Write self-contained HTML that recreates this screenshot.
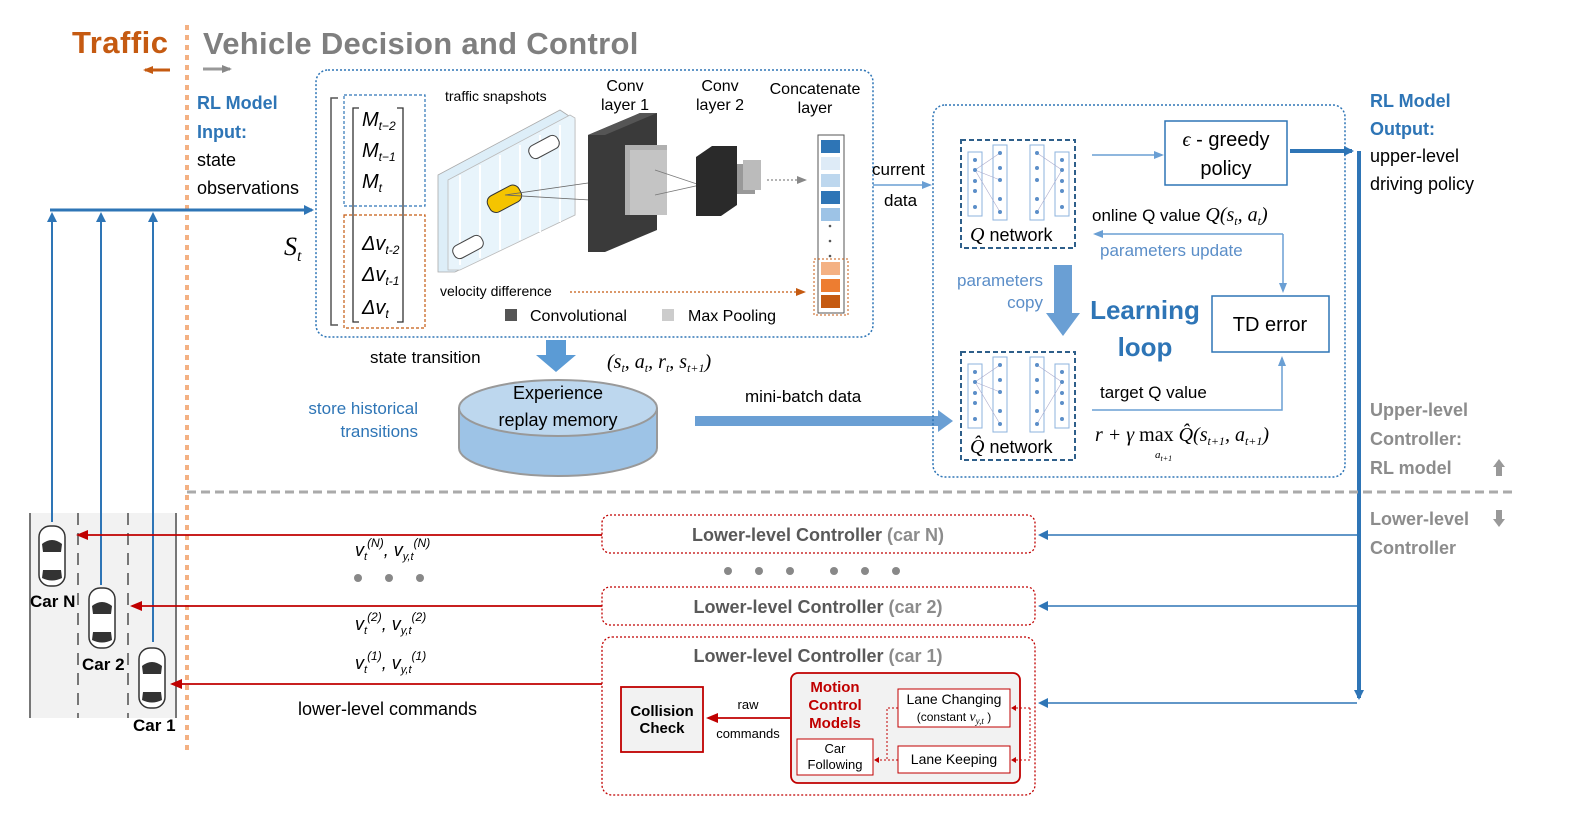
<!DOCTYPE html>
<html><head><meta charset="utf-8"><style>
body{margin:0;background:#fff}
svg{display:block}
text{font-family:"Liberation Sans",sans-serif}
.m{font-family:"Liberation Serif",serif;font-style:italic}
.b{font-weight:bold}
</style></head><body>
<svg width="1572" height="824" viewBox="0 0 1572 824" xmlns="http://www.w3.org/2000/svg">
<defs>
<marker id="ab" markerWidth="10" markerHeight="10" refX="8" refY="5" orient="auto" markerUnits="userSpaceOnUse"><path d="M0,0L10,5L0,10z" fill="#2e75b6"/></marker>
<marker id="al" markerWidth="10" markerHeight="10" refX="8" refY="5" orient="auto" markerUnits="userSpaceOnUse"><path d="M0,1L10,5L0,9z" fill="#6a9fd4"/></marker>
<marker id="ar" markerWidth="12" markerHeight="10" refX="10" refY="5" orient="auto" markerUnits="userSpaceOnUse"><path d="M0,0L12,5L0,10z" fill="#c00000"/></marker>
<marker id="ao" markerWidth="10" markerHeight="8" refX="8" refY="4" orient="auto" markerUnits="userSpaceOnUse"><path d="M0,0L10,4L0,8z" fill="#c55a11"/></marker>
<marker id="ag" markerWidth="10" markerHeight="8" refX="8" refY="4" orient="auto" markerUnits="userSpaceOnUse"><path d="M0,0L10,4L0,8z" fill="#888"/></marker>
<g id="car"><rect x="-13" y="-30" width="26" height="60" rx="11" fill="#fff" stroke="#333" stroke-width="1.5"/><path d="M-10,-12 Q0,-20 10,-12 L9,-4 L-9,-4z" fill="#333"/><path d="M-9,14 L9,14 L10,22 Q0,27 -10,22z" fill="#333"/></g>
</defs>

<!-- road (drawn first) -->
<rect x="30" y="513" width="146" height="205" fill="#f2f2f2"/>
<g stroke="#777" stroke-width="2"><line x1="30" y1="513" x2="30" y2="718"/><line x1="176" y1="513" x2="176" y2="718"/>
<line x1="78" y1="513" x2="78" y2="718" stroke-dasharray="12,8"/><line x1="128" y1="513" x2="128" y2="718" stroke-dasharray="12,8"/></g>

<!-- headers -->
<text x="72" y="53" font-size="31" class="b" fill="#c55a11" letter-spacing="0.5">Traffic</text>
<line x1="170" y1="70" x2="145" y2="70" stroke="#c55a11" stroke-width="3" marker-end="url(#ao)"/>
<line x1="187" y1="25" x2="187" y2="755" stroke="#f4b183" stroke-width="4" stroke-dasharray="5,5"/>
<text x="203" y="54" font-size="31" class="b" fill="#7f7f7f" letter-spacing="0.3">Vehicle Decision and Control</text>
<line x1="203" y1="69" x2="230" y2="69" stroke="#999" stroke-width="3" marker-end="url(#ag)"/>

<text x="197" y="109" font-size="18" class="b" fill="#2e75b6">RL Model</text>
<text x="197" y="138" font-size="18" class="b" fill="#2e75b6">Input:</text>
<text x="197" y="166" font-size="18">state</text>
<text x="197" y="194" font-size="18">observations</text>

<!-- input lines -->
<line x1="50" y1="210" x2="312" y2="210" stroke="#2e75b6" stroke-width="3" marker-end="url(#ab)"/>
<line x1="52" y1="522" x2="52" y2="214" stroke="#2e75b6" stroke-width="2" marker-end="url(#ab)"/>
<line x1="101" y1="585" x2="101" y2="214" stroke="#2e75b6" stroke-width="2" marker-end="url(#ab)"/>
<line x1="153" y1="642" x2="153" y2="214" stroke="#2e75b6" stroke-width="2" marker-end="url(#ab)"/>

<!-- left CNN box -->
<rect x="316" y="70" width="557" height="267" rx="12" fill="none" stroke="#2e75b6" stroke-width="1.5" stroke-dasharray="2,2"/>
<text x="284" y="255" font-size="26" class="m">S<tspan font-size="16" dy="6">t</tspan></text>
<path d="M338,98 H331 V325 H338" fill="none" stroke="#555" stroke-width="1.5"/>
<rect x="344" y="95" width="81" height="111" fill="none" stroke="#2e75b6" stroke-width="1.2" stroke-dasharray="3,2"/>
<rect x="344" y="215" width="81" height="113" fill="none" stroke="#c55a11" stroke-width="1.2" stroke-dasharray="3,2"/>
<path d="M359,108 H353 V322 H359 M397,108 H403 V322 H397" fill="none" stroke="#333" stroke-width="1.3"/>
<g font-size="20" class="m">
<text x="362" y="126">M<tspan font-size="12" dy="4">t−2</tspan></text>
<text x="362" y="157">M<tspan font-size="12" dy="4">t−1</tspan></text>
<text x="362" y="188">M<tspan font-size="12" dy="4">t</tspan></text>
<text x="362" y="250">Δv<tspan font-size="12" dy="4">t-2</tspan></text>
<text x="362" y="281">Δv<tspan font-size="12" dy="4">t-1</tspan></text>
<text x="362" y="314">Δv<tspan font-size="12" dy="4">t</tspan></text>
</g>
<text x="445" y="101" font-size="14">traffic snapshots</text>
<!-- snapshots -->
<polygon points="438,175 560,110 575,120 575,215 455,272 438,272" fill="#ddeef8" stroke="#aaa" stroke-width="0.8"/>
<polygon points="448,180 570,115 575,118 575,215 460,270 448,270" fill="#e8f4fb" stroke="#bbb" stroke-width="0.8"/>
<g stroke="#fff" stroke-width="2"><line x1="460" y1="175" x2="460" y2="265"/><line x1="480" y1="165" x2="480" y2="258"/><line x1="500" y1="155" x2="500" y2="250"/><line x1="520" y1="145" x2="520" y2="240"/><line x1="540" y1="135" x2="540" y2="232"/><line x1="560" y1="125" x2="560" y2="222"/></g>
<rect x="487" y="190" width="35" height="18" rx="7" fill="#f5c400" stroke="#333" transform="rotate(-28 504 199)"/>
<rect x="528" y="140" width="32" height="14" rx="6" fill="#fff" stroke="#444" transform="rotate(-28 544 147)"/>
<rect x="452" y="240" width="32" height="14" rx="6" fill="#fff" stroke="#444" transform="rotate(-28 468 247)"/>
<polyline points="505,195 588,183 505,195 590,200" fill="none" stroke="#666" stroke-width="0.8"/>
<!-- conv1 -->
<polygon points="588,135 640,113 657,113 657,230 605,252 588,252" fill="#3a3a3a"/>
<polygon points="588,135 640,113 657,113 605,135" fill="#555"/>
<rect x="625" y="145" width="42" height="70" fill="#b0b0b0"/>
<rect x="630" y="150" width="37" height="65" fill="#c4c4c4"/>
<polyline points="655,170 700,185 655,195" fill="none" stroke="#777" stroke-width="0.8"/>
<!-- conv2 -->
<polygon points="696,157 712,146 737,146 737,205 721,216 696,216" fill="#2a2a2a"/>
<rect x="737" y="164" width="18" height="30" fill="#999"/>
<rect x="743" y="160" width="18" height="30" fill="#bbb"/>
<line x1="767" y1="180" x2="805" y2="180" stroke="#888" stroke-width="1.3" stroke-dasharray="2,2" marker-end="url(#ag)"/>
<g font-size="16" text-anchor="middle">
<text x="625" y="91">Conv</text><text x="625" y="110">layer 1</text>
<text x="720" y="91">Conv</text><text x="720" y="110">layer 2</text>
<text x="815" y="94">Concatenate</text><text x="815" y="113">layer</text>
</g>
<rect x="818" y="135" width="26" height="178" fill="#fff" stroke="#555"/>
<rect x="821" y="140" width="19" height="13" fill="#2e75b6"/>
<rect x="821" y="157" width="19" height="13" fill="#deebf7"/>
<rect x="821" y="174" width="19" height="13" fill="#bdd7ee"/>
<rect x="821" y="191" width="19" height="13" fill="#2e75b6"/>
<rect x="821" y="208" width="19" height="13" fill="#9dc3e6"/>
<g fill="#555"><circle cx="830" cy="226" r="1.3"/><circle cx="830" cy="241" r="1.3"/><circle cx="830" cy="256" r="1.3"/></g>
<rect x="821" y="262" width="19" height="13" fill="#f4b183"/>
<rect x="821" y="279" width="19" height="13" fill="#ed7d31"/>
<rect x="821" y="295" width="19" height="13" fill="#c55a11"/>
<rect x="814" y="259" width="34" height="56" fill="none" stroke="#c55a11" stroke-dasharray="2,2"/>
<text x="440" y="296" font-size="14">velocity difference</text>
<line x1="570" y1="292" x2="804" y2="292" stroke="#c55a11" stroke-width="1.3" stroke-dasharray="2,2" marker-end="url(#ao)"/>
<rect x="505" y="309" width="12" height="12" fill="#555"/>
<text x="530" y="321" font-size="16" font-family="Liberation Serif">Convolutional</text>
<rect x="662" y="309" width="12" height="12" fill="#ccc"/>
<text x="688" y="321" font-size="16" font-family="Liberation Serif">Max Pooling</text>

<!-- current data -->
<text x="872" y="175" font-size="17">current</text>
<text x="884" y="206" font-size="17">data</text>
<line x1="873" y1="185" x2="930" y2="185" stroke="#6a9fd4" stroke-width="1.5" marker-end="url(#al)"/>

<!-- state transition / memory -->
<text x="370" y="363" font-size="17">state transition</text>
<polygon points="546,340 566,340 566,355 576,355 556,372 536,355 546,355" fill="#5b9bd5"/>
<text x="607" y="368" font-size="20" class="m">(s<tspan font-size="12" dy="4">t</tspan><tspan dy="-4">, a</tspan><tspan font-size="12" dy="4">t</tspan><tspan dy="-4">, r</tspan><tspan font-size="12" dy="4">t</tspan><tspan dy="-4">, s</tspan><tspan font-size="12" dy="4">t+1</tspan><tspan dy="-4">)</tspan></text>
<text x="418" y="414" font-size="17" fill="#2e75b6" text-anchor="end">store historical</text>
<text x="418" y="437" font-size="17" fill="#2e75b6" text-anchor="end">transitions</text>
<path d="M459,408 V448 A99,28 0 0 0 657,448 V408" fill="#9dc3e6" stroke="#999" stroke-width="2"/>
<ellipse cx="558" cy="408" rx="99" ry="28" fill="#bdd7ee" stroke="#999" stroke-width="2"/>
<text x="558" y="399" font-size="18" text-anchor="middle">Experience</text>
<text x="558" y="426" font-size="18" text-anchor="middle">replay memory</text>
<text x="745" y="402" font-size="17">mini-batch data</text>
<polygon points="695,416 938,416 938,410 953,421 938,432 938,426 695,426" fill="#6a9fd4"/>

<!-- right box -->
<rect x="933" y="105" width="412" height="372" rx="12" fill="none" stroke="#2e75b6" stroke-width="1.5" stroke-dasharray="2,2"/>
<g id="net">
<rect x="961" y="140" width="114" height="108" fill="none" stroke="#2e5f8a" stroke-width="2" stroke-dasharray="5,3"/>
<rect x="968" y="152" width="14" height="64" fill="none" stroke="#8db3dd"/>
<rect x="993" y="145" width="14" height="75" fill="none" stroke="#8db3dd"/>
<rect x="1030" y="145" width="14" height="75" fill="none" stroke="#8db3dd"/>
<rect x="1055" y="152" width="14" height="64" fill="none" stroke="#8db3dd"/>
<g stroke="#aac" stroke-width="0.6"><line x1="975" y1="170" x2="1000" y2="153"/><line x1="975" y1="170" x2="1000" y2="180"/><line x1="975" y1="170" x2="1000" y2="212"/><line x1="1037" y1="153" x2="1062" y2="170"/><line x1="1037" y1="212" x2="1062" y2="170"/></g>
<g fill="#5b8ec8"><circle cx="975" cy="160" r="2"/><circle cx="975" cy="170" r="2"/><circle cx="975" cy="181" r="2"/><circle cx="975" cy="191" r="2"/><circle cx="975" cy="207" r="2"/>
<circle cx="1000" cy="153" r="2"/><circle cx="1000" cy="168" r="2"/><circle cx="1000" cy="180" r="2"/><circle cx="1000" cy="199" r="2"/><circle cx="1000" cy="212" r="2"/>
<circle cx="1037" cy="153" r="2"/><circle cx="1037" cy="168" r="2"/><circle cx="1037" cy="180" r="2"/><circle cx="1037" cy="199" r="2"/><circle cx="1037" cy="212" r="2"/>
<circle cx="1062" cy="160" r="2"/><circle cx="1062" cy="170" r="2"/><circle cx="1062" cy="181" r="2"/><circle cx="1062" cy="191" r="2"/><circle cx="1062" cy="207" r="2"/></g>
</g>
<use href="#net" y="212"/>
<text x="970" y="241" font-size="18"><tspan class="m" font-size="20">Q</tspan> network</text>
<text x="970" y="453" font-size="18"><tspan class="m" font-size="20">Q̂</tspan> network</text>
<line x1="1092" y1="155" x2="1162" y2="155" stroke="#6a9fd4" stroke-width="1.5" marker-end="url(#al)"/>
<rect x="1165" y="121" width="122" height="64" fill="#fff" stroke="#2e75b6" stroke-width="1.5"/>
<text x="1226" y="146" font-size="20" text-anchor="middle"><tspan class="m">ϵ</tspan> - greedy</text>
<text x="1226" y="175" font-size="20" text-anchor="middle">policy</text>
<line x1="1290" y1="151" x2="1352" y2="151" stroke="#2e75b6" stroke-width="4" marker-end="url(#ab)"/>
<text x="1092" y="221" font-size="17">online Q value <tspan class="m" font-size="20">Q(s<tspan font-size="12" dy="4">t</tspan><tspan dy="-4">, a</tspan><tspan font-size="12" dy="4">t</tspan><tspan dy="-4">)</tspan></tspan></text>
<polyline points="1283,234 1095,234" fill="none" stroke="#6a9fd4" stroke-width="1.5" marker-end="url(#al)"/>
<line x1="1283" y1="234" x2="1283" y2="291" stroke="#6a9fd4" stroke-width="1.5" marker-end="url(#al)"/>
<text x="1100" y="256" font-size="17" fill="#5b8ec8">parameters update</text>
<text x="1043" y="286" font-size="17" fill="#5b8ec8" text-anchor="end">parameters</text>
<text x="1043" y="308" font-size="17" fill="#5b8ec8" text-anchor="end">copy</text>
<polygon points="1054,265 1072,265 1072,313 1080,313 1063,336 1046,313 1054,313" fill="#6a9fd4"/>
<text x="1145" y="319" font-size="26" class="b" fill="#2e75b6" text-anchor="middle">Learning</text>
<text x="1145" y="356" font-size="26" class="b" fill="#2e75b6" text-anchor="middle">loop</text>
<rect x="1212" y="296" width="117" height="56" fill="#fff" stroke="#2e75b6" stroke-width="1.5"/>
<text x="1270" y="331" font-size="20" text-anchor="middle">TD error</text>
<text x="1100" y="398" font-size="17">target Q value</text>
<polyline points="1092,410 1282,410 1282,358" fill="none" stroke="#6a9fd4" stroke-width="1.5" marker-end="url(#al)"/>
<text x="1095" y="441" font-size="20" class="m">r + γ <tspan font-style="normal">max</tspan> Q̂(s<tspan font-size="12" dy="4">t+1</tspan><tspan dy="-4">, a</tspan><tspan font-size="12" dy="4">t+1</tspan><tspan dy="-4">)</tspan></text>
<text x="1155" y="458" font-size="11" class="m">a<tspan font-size="8" dy="3">t+1</tspan></text>

<!-- right side text -->
<text x="1370" y="107" font-size="18" class="b" fill="#2e75b6">RL Model</text>
<text x="1370" y="135" font-size="18" class="b" fill="#2e75b6">Output:</text>
<text x="1370" y="162" font-size="18">upper-level</text>
<text x="1370" y="190" font-size="18">driving policy</text>
<line x1="1359" y1="151" x2="1359" y2="698" stroke="#2e75b6" stroke-width="4" marker-end="url(#ab)"/>
<g font-size="18" class="b" fill="#8c8c8c">
<text x="1370" y="416">Upper-level</text><text x="1370" y="445">Controller:</text><text x="1370" y="474">RL model</text>
<text x="1370" y="525">Lower-level</text><text x="1370" y="554">Controller</text>
</g>
<polygon points="1499,459 1505,467 1502,467 1502,476 1496,476 1496,467 1493,467" fill="#999"/>
<polygon points="1499,527 1505,519 1502,519 1502,510 1496,510 1496,519 1493,519" fill="#999"/>
<line x1="187" y1="492" x2="1512" y2="492" stroke="#aaa" stroke-width="3" stroke-dasharray="9,5"/>

<!-- lower controllers -->
<g fill="none" stroke="#c00000" stroke-width="1.3" stroke-dasharray="2,2">
<rect x="602" y="515" width="433" height="38" rx="8"/>
<rect x="602" y="587" width="433" height="38" rx="8"/>
<rect x="602" y="637" width="433" height="158" rx="10"/>
</g>
<g font-size="18" class="b" fill="#595959" text-anchor="middle">
<text x="818" y="541">Lower-level Controller <tspan fill="#8c8c8c">(car N)</tspan></text>
<text x="818" y="613">Lower-level Controller <tspan fill="#8c8c8c">(car 2)</tspan></text>
<text x="818" y="662">Lower-level Controller <tspan fill="#8c8c8c">(car 1)</tspan></text>
</g>
<g fill="#888"><circle cx="728" cy="571" r="4"/><circle cx="759" cy="571" r="4"/><circle cx="790" cy="571" r="4"/><circle cx="834" cy="571" r="4"/><circle cx="865" cy="571" r="4"/><circle cx="896" cy="571" r="4"/>
<circle cx="358" cy="578" r="4"/><circle cx="389" cy="578" r="4"/><circle cx="420" cy="578" r="4"/></g>
<g stroke="#2e75b6" stroke-width="1.5"><line x1="1357" y1="535" x2="1040" y2="535" marker-end="url(#ab)"/><line x1="1357" y1="606" x2="1040" y2="606" marker-end="url(#ab)"/><line x1="1357" y1="703" x2="1040" y2="703" marker-end="url(#ab)"/></g>
<g stroke="#c00000" stroke-width="1.8"><line x1="602" y1="535" x2="78" y2="535" marker-end="url(#ar)"/><line x1="602" y1="606" x2="132" y2="606" marker-end="url(#ar)"/><line x1="602" y1="684" x2="172" y2="684" marker-end="url(#ar)"/></g>
<g font-size="18" class="m">
<text x="355" y="556">v<tspan font-size="11" dy="4">t</tspan><tspan font-size="12" dy="-13">(N)</tspan><tspan dy="9">, v</tspan><tspan font-size="11" dy="4">y,t</tspan><tspan font-size="12" dy="-13">(N)</tspan></text>
<text x="355" y="630">v<tspan font-size="11" dy="4">t</tspan><tspan font-size="12" dy="-13">(2)</tspan><tspan dy="9">, v</tspan><tspan font-size="11" dy="4">y,t</tspan><tspan font-size="12" dy="-13">(2)</tspan></text>
<text x="355" y="669">v<tspan font-size="11" dy="4">t</tspan><tspan font-size="12" dy="-13">(1)</tspan><tspan dy="9">, v</tspan><tspan font-size="11" dy="4">y,t</tspan><tspan font-size="12" dy="-13">(1)</tspan></text>
</g>
<text x="298" y="715" font-size="18">lower-level commands</text>

<use href="#car" x="52" y="556"/><use href="#car" x="102" y="618"/><use href="#car" x="152" y="678"/>
<g font-size="17" class="b"><text x="30" y="607">Car N</text><text x="82" y="670">Car 2</text><text x="133" y="731">Car 1</text></g>

<!-- car1 internals -->
<rect x="621" y="687" width="82" height="65" fill="#f2f2f2" stroke="#c00000" stroke-width="1.8"/>
<text x="662" y="716" font-size="15" class="b" text-anchor="middle">Collision</text>
<text x="662" y="733" font-size="15" class="b" text-anchor="middle">Check</text>
<text x="748" y="709" font-size="13" text-anchor="middle">raw</text>
<text x="748" y="738" font-size="13" text-anchor="middle">commands</text>
<line x1="790" y1="718" x2="708" y2="718" stroke="#c00000" stroke-width="1.8" marker-end="url(#ar)"/>
<rect x="791" y="673" width="229" height="110" rx="7" fill="#f2f2f2" stroke="#c00000" stroke-width="1.8"/>
<g font-size="15" class="b" fill="#c00000" text-anchor="middle"><text x="835" y="692">Motion</text><text x="835" y="710">Control</text><text x="835" y="728">Models</text></g>
<rect x="898" y="689" width="112" height="38" fill="#fff" stroke="#c00000"/>
<text x="954" y="704" font-size="14" text-anchor="middle">Lane Changing</text>
<text x="954" y="721" font-size="12" text-anchor="middle">(constant <tspan class="m" font-size="14">v</tspan><tspan class="m" font-size="9" dy="3">y,t</tspan><tspan dy="-3"> )</tspan></text>
<rect x="898" y="746" width="112" height="27" fill="#fff" stroke="#c00000"/>
<text x="954" y="764" font-size="14" text-anchor="middle">Lane Keeping</text>
<rect x="797" y="739" width="76" height="36" fill="#fff" stroke="#c00000"/>
<text x="835" y="753" font-size="13" text-anchor="middle">Car</text>
<text x="835" y="769" font-size="13" text-anchor="middle">Following</text>
<g fill="none" stroke="#c00000" stroke-dasharray="2,2"><polyline points="898,708 887,708 887,760 876,760"/><line x1="898" y1="760" x2="876" y2="760"/>
<polyline points="1030,708 1030,760"/><line x1="1030" y1="708" x2="1013" y2="708"/><line x1="1030" y1="760" x2="1013" y2="760"/></g>
<g fill="#c00000"><path d="M874,760 l5,-3 v6z"/><path d="M1011,708 l5,-3 v6z"/><path d="M1011,760 l5,-3 v6z"/></g>
</svg>
</body></html>
